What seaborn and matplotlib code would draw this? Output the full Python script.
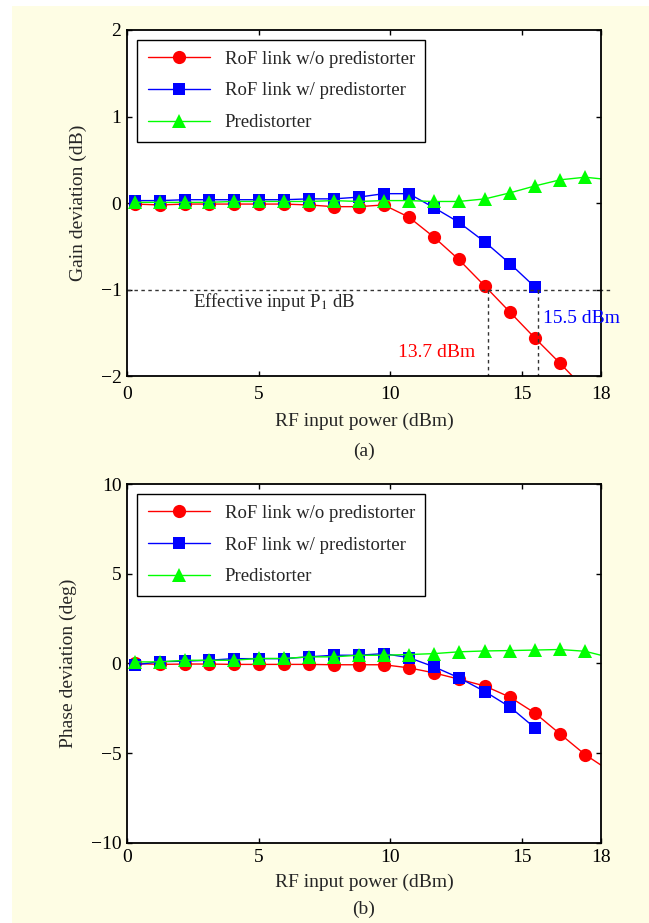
import matplotlib
matplotlib.use("Agg")
import matplotlib.pyplot as plt
import seaborn as sns
from matplotlib.patches import Rectangle

# RF input power (dBm) at each measured point
x_power = [0.3, 1.25, 2.2, 3.1, 4.05, 5.0, 5.95, 6.9, 7.85, 8.8, 9.75,
           10.7, 11.65, 12.6, 13.6, 14.55, 15.5, 16.45, 17.4, 18.35]

# (a) gain deviation (dB)
gain_wo = [-0.01, -0.02, -0.01, -0.01, -0.01, -0.01, -0.01, -0.02, -0.04, -0.04,
           -0.02, -0.16, -0.39, -0.65, -0.96, -1.26, -1.56, -1.85, -2.15]
gain_w = [0.03, 0.03, 0.04, 0.04, 0.04, 0.04, 0.04, 0.05, 0.05, 0.07,
          0.11, 0.11, -0.05, -0.22, -0.45, -0.70, -0.97]
gain_pre = [0.01, 0.01, 0.01, 0.01, 0.02, 0.02, 0.02, 0.02, 0.03, 0.02,
            0.03, 0.03, 0.02, 0.02, 0.05, 0.12, 0.20, 0.27, 0.30, 0.27]

# (b) phase deviation (deg)
phase_wo = [0.0, -0.05, -0.03, -0.03, -0.05, -0.05, -0.05, -0.05, -0.07, -0.07,
            -0.07, -0.24, -0.52, -0.87, -1.26, -1.88, -2.77, -3.93, -5.08, -6.0]
phase_w = [-0.08, 0.1, 0.13, 0.18, 0.27, 0.27, 0.27, 0.37, 0.46, 0.46,
           0.55, 0.33, -0.18, -0.79, -1.57, -2.43, -3.6]
phase_pre = [0.09, 0.09, 0.18, 0.18, 0.18, 0.28, 0.28, 0.37, 0.37, 0.46,
             0.46, 0.5, 0.55, 0.65, 0.7, 0.72, 0.75, 0.78, 0.68, 0.33]

labels = ["RoF link w/o predistorter", "RoF link w/ predistorter", "Predistorter"]
colors = ["#ff0000", "#0000ff", "#00ff00"]
markers = ["o", "s", "^"]
msizes = [9.5, 8.5, 10]

sns.set_theme(style="ticks")
plt.rcParams["font.family"] = ["Liberation Serif", "DejaVu Serif"]
plt.rcParams["mathtext.fontset"] = "stix"
plt.rcParams["xtick.direction"] = "in"
plt.rcParams["ytick.direction"] = "in"
plt.rcParams["xtick.top"] = True
plt.rcParams["ytick.right"] = True
plt.rcParams["xtick.major.size"] = 3.5
plt.rcParams["ytick.major.size"] = 3.5
plt.rcParams["xtick.color"] = "black"
plt.rcParams["ytick.color"] = "black"
plt.rcParams["axes.edgecolor"] = "black"

bg = "#fefde4"
fig = plt.figure(figsize=(6.49, 9.23), dpi=100, facecolor=bg)
fig.patches.append(Rectangle((0, 1 - 6 / 923), 1, 6 / 923, transform=fig.transFigure,
                             facecolor="white", edgecolor="none", zorder=0))
fig.patches.append(Rectangle((0, 0), 12 / 649, 1, transform=fig.transFigure,
                             facecolor="white", edgecolor="none", zorder=0))

ax1 = fig.add_axes([0.1957, 0.5922, 0.7303, 0.3753])
ax2 = fig.add_axes([0.1957, 0.0867, 0.7303, 0.3889])


def draw(ax, series, xpad, xlabpad):
    for ys, lab, c, m, ms in zip(series, labels, colors, markers, msizes):
        sns.lineplot(x=x_power[:len(ys)], y=ys, ax=ax, color=c, marker=m,
                     markersize=ms, markeredgecolor=c, markeredgewidth=0,
                     linewidth=1.0, label=lab, sort=False)
    ax.set_xlim(0, 18)
    ax.set_xticks([0, 5, 10, 15, 18])
    ax.tick_params(labelsize=14, width=1, pad=4)
    ax.tick_params(axis="x", pad=xpad)
    for s in ax.spines.values():
        s.set_linewidth(1.3)
    ax.set_xlabel("RF input power (dBm)", fontsize=14, labelpad=xlabpad)
    leg = ax.legend(loc="upper left", fontsize=13.5, fancybox=False, framealpha=1,
                    edgecolor="black", handlelength=3.3, borderaxespad=0.55,
                    labelspacing=0.78, borderpad=0.55)
    leg.get_frame().set_linewidth(1.0)


draw(ax1, [gain_wo, gain_w, gain_pre], 7, 7)
ax1.set_ylim(-2, 2)
ax1.set_yticks([-2, -1, 0, 1, 2])
ax1.set_ylabel("Gain deviation (dB)", fontsize=14, labelpad=10)

# effective input P1dB markers
ax1.plot([0, 18.35], [-1, -1], ls=(0, (2.5, 2.5)), color="#333333", lw=1, clip_on=False)
ax1.plot([13.7, 13.7], [-1, -2], ls=(0, (2.5, 2.5)), color="#333333", lw=1)
ax1.plot([15.6, 15.6], [-1, -2], ls=(0, (2.5, 2.5)), color="#333333", lw=1)
ax1.text(2.5, -1.14, "Effective input P$_1$ dB", fontsize=13.5, va="center")
ax1.text(10.29, -1.72, "13.7 dBm", fontsize=14, color="#ff0000", va="center")
ax1.text(15.81, -1.33, "15.5 dBm", fontsize=14, color="#0000ff", va="center", clip_on=False)
ax1.text(9, -2.86, "(a)", fontsize=14, ha="center", va="center")

draw(ax2, [phase_wo, phase_w, phase_pre], 4, 6)
ax2.set_ylim(-10, 10)
ax2.set_yticks([-10, -5, 0, 5, 10])
ax2.set_ylabel("Phase deviation (deg)", fontsize=14, labelpad=10)
ax2.text(9, -13.7, "(b)", fontsize=14, ha="center", va="center")

fig.savefig("out.png", dpi=100, facecolor=bg)
